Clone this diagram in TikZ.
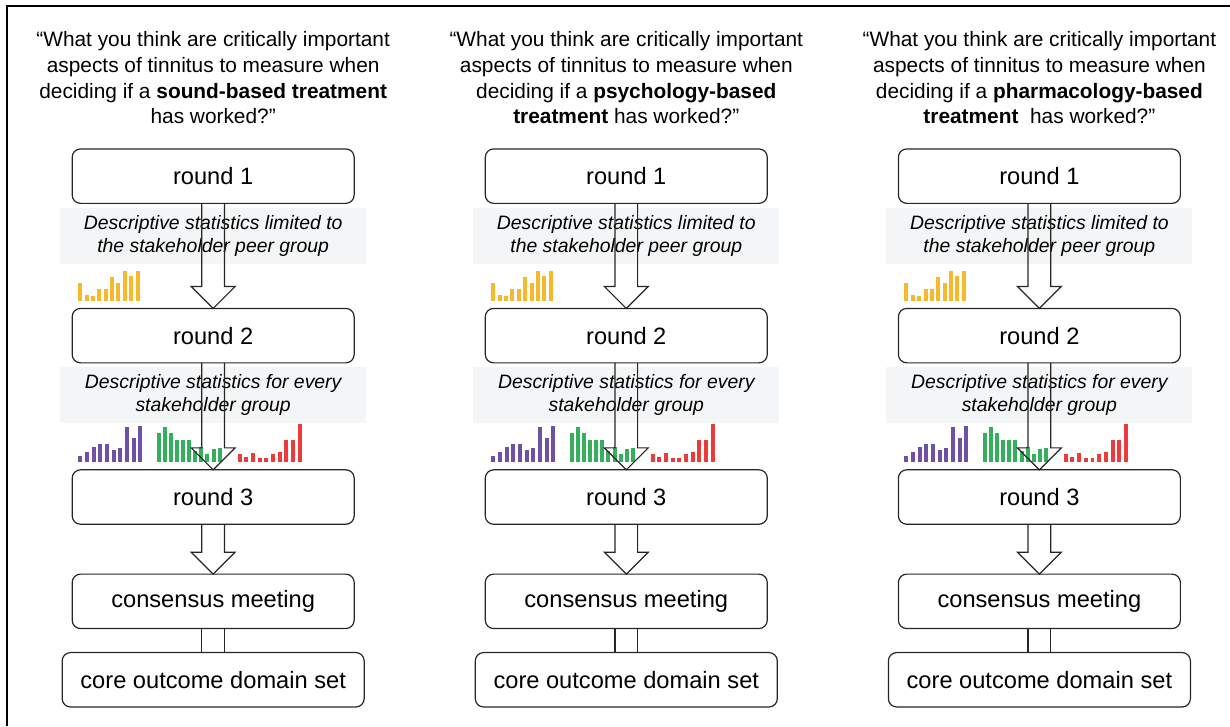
\documentclass[tikz,border=0pt]{standalone}
\usepackage{fontspec}
\setmainfont{Liberation Sans}
\usetikzlibrary{calc, positioning}
\definecolor{baryellow}{HTML}{F9B72A}
\definecolor{barviolet}{HTML}{7050A6}
\definecolor{bargreen}{HTML}{33B05C}
\definecolor{barred}{HTML}{EE3B3A}
\definecolor{bandgray}{HTML}{F4F5F6}
\tikzstyle{stage} = [rectangle, rounded corners=2.2mm, line width=0.9pt, draw=black!85, minimum width=74.6mm, minimum height=14.4mm, text centered, outer sep=0, font=\fontsize{17.8}{21}\selectfont]
\tikzstyle{band} = [rectangle, fill=bandgray, minimum width=81mm, minimum height=14.8mm, align=center, outer sep=0, font=\itshape\fontsize{14.6}{17.6}\selectfont]
\tikzstyle{question} = [align=center, inner sep=0, font=\fontsize{15.7}{19.3}\selectfont]
\tikzstyle{hollow} = [line width=0.9pt, draw=black!85, line join=miter]

\begin{document}
\begin{tikzpicture}[node distance = 10mm]
		\useasboundingbox (0,0) rectangle (325.43mm,-192.09mm);
		\draw[line width=1.6pt] (1.85mm,-192.09mm) |- (325.43mm,-1.6mm);
		
		\foreach \c/\q in {0/{deciding if a \textbf{sound-based treatment}\\has worked?”},
		                   1/{deciding if a \textbf{psychology-based}\\\textbf{treatment} has worked?”},
		                   2/{deciding if a \textbf{pharmacology-based}\\\textbf{treatment}\ \ has worked?”}}{
			\node (r1-\c) [stage] at ({56.4mm+\c*109.3mm},-46.6mm) {round 1};
			\node (q-\c) [question, above = 6.5mm of r1-\c] {“What you think are critically important\\aspects of tinnitus to measure when\\\q};
			\node (r2-\c) [stage, below = 27.8mm of r1-\c] {round 2};
			\node (r3-\c) [stage, below = 28.3mm of r2-\c] {round 3};
			\node (cm-\c) [stage, below = 13.2mm of r3-\c] {consensus meeting};
			\node (cs-\c) [stage, minimum width=79.9mm, below = 6.35mm of cm-\c] {core outcome domain set};
			\node (s1-\c) [band, below = 1.3mm of r1-\c] {Descriptive statistics limited to\\the stakeholder peer group};
			\node (s2-\c) [band, below = 1.1mm of r2-\c] {Descriptive statistics for every\\stakeholder group};
			
			% peer group bars
			\begin{scope}[shift={(r2-\c.north west)}, x=0.75pt, y=0.75pt]
				\foreach \h [count=\k from 0] in {19,6,5,12,12,25,19,31,26,31}
					\fill[baryellow] (6+\k*6.4,7) rectangle ++(4,\h);
			\end{scope}
			% all groups bars
			\begin{scope}[shift={(r3-\c.north west)}, x=0.75pt, y=0.75pt]
				\foreach \h [count=\k from 0] in {6,10,15,18,18,12,14,35,24,36}
					\fill[barviolet] (6+\k*6.7,8) rectangle ++(4,\h);
				\foreach \h [count=\k from 0] in {29,35,29,22,22,22,11,15,8,13,14}
					\fill[bargreen] (85+\k*6.1,8) rectangle ++(4,\h);
				\foreach \h [count=\k from 0] in {8,5,9,4,4,8,10,22,22,38}
					\fill[barred] (166+\k*6.7,8) rectangle ++(4,\h);
			\end{scope}
			
			\foreach \a/\b in {r1/r2, r2/r3, r3/cm}
				\draw[hollow] ($(\a-\c.south)+(-3mm,0)$) -- ($(\b-\c.north)+(-3mm,5.8mm)$) -- ++(-2.8mm,0) -- (\b-\c.north) -- ++(5.8mm,5.8mm) -- ++(-2.8mm,0) -- ($(\a-\c.south)+(3mm,0)$);
			\draw[hollow] ($(cm-\c.south)+(-3mm,0)$) -- ($(cs-\c.north)+(-3mm,0)$);
			\draw[hollow] ($(cm-\c.south)+(3mm,0)$) -- ($(cs-\c.north)+(3mm,0)$);
		}
\end{tikzpicture}
\end{document}
